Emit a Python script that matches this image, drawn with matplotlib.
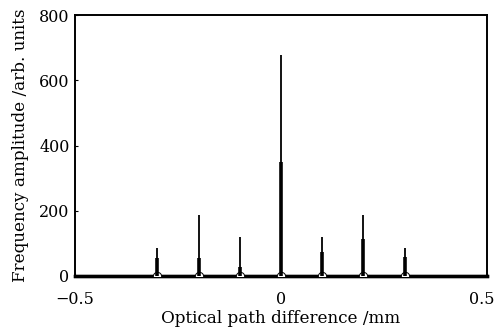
import matplotlib
matplotlib.use("Agg")
import matplotlib.pyplot as plt
import matplotlib.transforms as mtrans

peak_x = [-0.3, -0.2, -0.1, 0.0, 0.1, 0.2, 0.3]
peak_top = [87, 187, 120, 678, 120, 187, 87]
peak_shoulder = [54, 54, 29, 350, 75, 112, 59]

xlim = [-0.5, 0.5]
ylim = [0, 800]
xticks = [-0.5, 0, 0.5]
xticklabels = ["\u22120.5", "0", "0.5"]
yticks = [0, 200, 400, 600, 800]
yticklabels = ["0", "200", "400", "600", "800"]

plt.rcParams['font.family'] = ['DejaVu Serif']

fig = plt.figure(figsize=(4.97, 3.30), dpi=100)
ax = fig.add_axes([75/497, 1-276/330, (487-75)/497, (276-15)/330])

ax.plot(xlim, [0, 0], color='black', lw=2.4, zorder=3, clip_on=False)
ax.scatter(peak_x, [0]*len(peak_x), s=36, facecolor='white', edgecolor='black',
           linewidths=0.7, zorder=3.5)
ax.vlines(peak_x, 0, peak_top, color='black', lw=1.3, zorder=4)
ax.vlines(peak_x, 0, peak_shoulder, color='black', lw=2.6, zorder=4)

ax.set_xlim(xlim)
ax.set_ylim(ylim)
ax.set_xticks(xticks)
ax.set_xticklabels(xticklabels, fontsize=11.5)
ax.set_yticks(yticks)
ax.set_yticklabels(yticklabels, fontsize=11.5)
ax.tick_params(axis='y', direction='in', length=2, width=0.8, pad=4)
ax.tick_params(axis='x', direction='in', length=2, width=0.8, pad=10.5)
lbl_last = ax.get_xticklabels()[-1]
lbl_last.set_transform(lbl_last.get_transform() + mtrans.ScaledTranslation(-5/100, 0, fig.dpi_scale_trans))

for s in ax.spines.values():
    s.set_linewidth(1.4)
ax.spines['bottom'].set_linewidth(2.4)

ax.set_xlabel("Optical path difference /mm", fontsize=12.1, labelpad=2)
ax.set_ylabel("Frequency amplitude /arb. units", fontsize=12.1, labelpad=7)

fig.savefig("out.png", dpi=100)
